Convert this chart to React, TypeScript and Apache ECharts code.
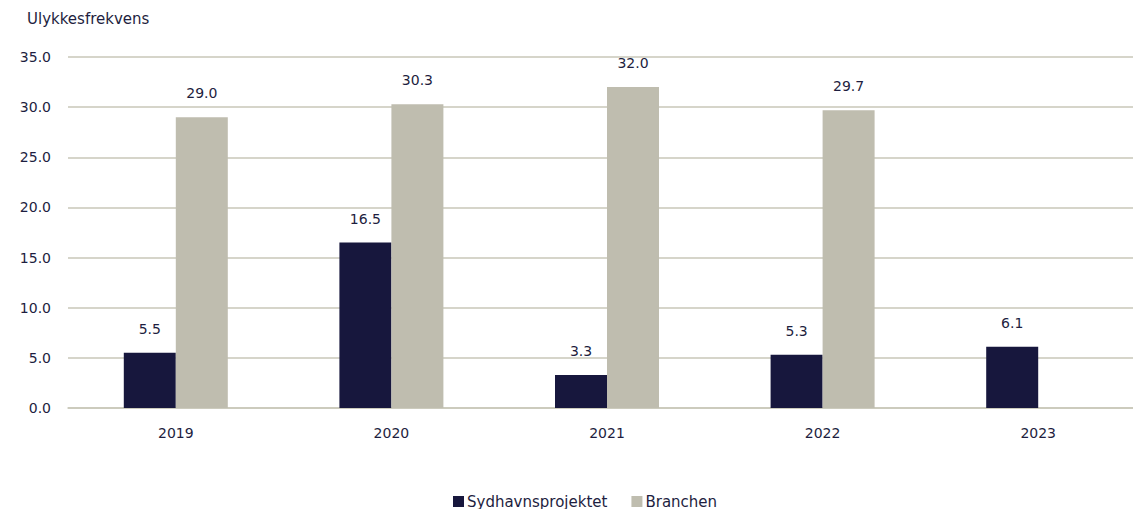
import React, { useEffect, useRef } from "react";
import * as echarts from "echarts";

const categories = ["2019", "2020", "2021", "2022", "2023"];
const sydhavn = [5.5, 16.5, 3.3, 5.3, 6.1];
const branchen: (number | null)[] = [29.0, 30.3, 32.0, 29.7, null];
const seriesNames = ["Sydhavnsprojektet", "Branchen"];
const yTitle = "Ulykkesfrekvens";

const DARK = "#17173d";
const GRAY = "#bfbdaf";
const TEXT = "#1e1e40";
const GRID = "#c9c7b9";
const FONT = "'DejaVu Sans', sans-serif";

export default function App() {
  const ref = useRef<HTMLDivElement>(null);
  useEffect(() => {
    if (!ref.current) return;
    document.body.style.overflow = "hidden";
    const chart = echarts.init(ref.current, null, { renderer: "svg" });
    const label = {
      show: true,
      position: "top",
      distance: 17,
      color: TEXT,
      fontSize: 14,
      fontFamily: FONT,
      formatter: (p: any) => Number(p.value).toFixed(1),
    };
    chart.setOption({
      animation: false,
      textStyle: { fontFamily: FONT },
      graphic: [
        {
          type: "text",
          left: 27,
          top: 11,
          style: { text: yTitle, fill: TEXT, fontSize: 15, fontFamily: FONT },
        },
      ],
      grid: { left: 68, right: 14, top: 57, bottom: 101, containLabel: false },
      legend: {
        data: seriesNames,
        left: 453,
        top: 494,
        padding: 0,
        itemWidth: 11,
        itemHeight: 11,
        itemGap: 24,
        icon: "rect",
        textStyle: { color: TEXT, fontSize: 15, fontFamily: FONT, padding: [0, 0, 0, -2] },
      },
      xAxis: {
        type: "category",
        data: categories,
        axisLine: { lineStyle: { color: GRID, width: 1.5 } },
        axisTick: { show: false },
        axisLabel: { color: TEXT, fontSize: 14, margin: 18, fontFamily: FONT },
      },
      yAxis: {
        type: "value",
        min: 0,
        max: 35,
        interval: 5,
        axisLine: { show: false },
        axisTick: { show: false },
        axisLabel: {
          color: TEXT,
          fontSize: 14,
          margin: 17,
          fontFamily: FONT,
          formatter: (v: number) => v.toFixed(1),
        },
        splitLine: { lineStyle: { color: GRID, width: 1.5 } },
      },
      series: [
        {
          name: seriesNames[0],
          type: "bar",
          data: sydhavn,
          barWidth: 52,
          barGap: "0%",
          itemStyle: { color: DARK },
          label,
        },
        {
          name: seriesNames[1],
          type: "bar",
          data: branchen,
          barWidth: 52,
          barGap: "0%",
          itemStyle: { color: GRAY },
          label,
        },
      ],
    });
    return () => chart.dispose();
  }, []);
  return (
    <div
      ref={ref}
      style={{ position: "fixed", left: 0, top: 0, width: 1160, height: 509, background: "#fff" }}
    />
  );
}
